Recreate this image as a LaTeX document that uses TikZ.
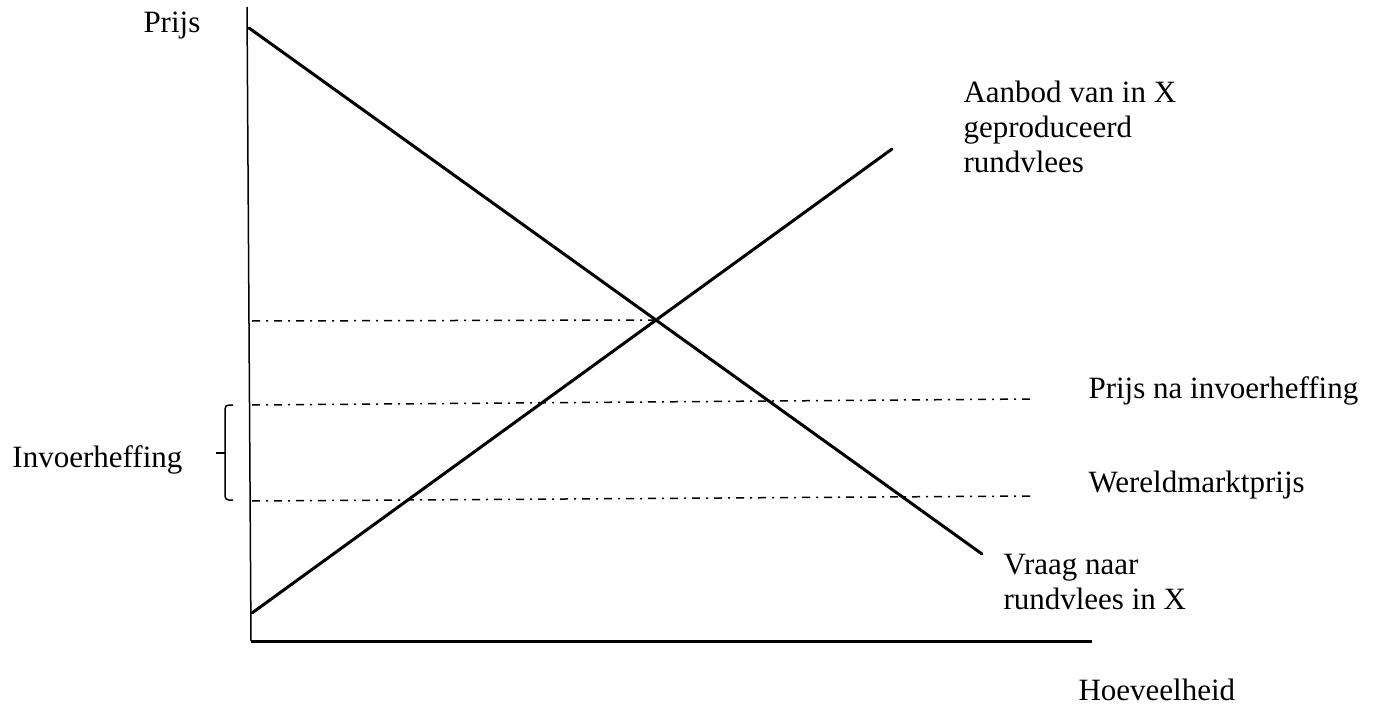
\documentclass[tikz,border=0pt]{standalone}
\usepackage{fontspec}
\setmainfont{Liberation Serif}
\usepackage{tikz}
\usetikzlibrary{positioning,calc}

\begin{document}
\begin{tikzpicture}[
    x=0.4pt, y=-0.4pt,
    every node/.style={font=\fontsize{12.4}{13.8}\selectfont, inner sep=0pt},
    axis/.style={line width=0.6pt, color=black},
    curve/.style={line width=1.2pt, color=black, line cap=round},
    pricelevel/.style={line width=0.6pt, color=black,
                       dash pattern=on 3.2pt off 2.4pt on 0.8pt off 2.4pt},
    bracket/.style={line width=0.6pt, color=black, rounded corners=1.5pt},
    lbl/.style={anchor=base west, align=left}
]
\useasboundingbox (0,0) rectangle (1386,706);

% --- Axes ---
\coordinate (ytop) at (247,7);
\coordinate (orig) at (251,641);
\coordinate (xend) at (1092,641);
\draw[axis] (ytop) -- (orig);
\draw[axis, line width=1.2pt] (orig) -- (xend);

% --- Demand and supply ---
\coordinate (dtop) at (249,28);
\coordinate (dend) at (982,554);
\coordinate (sbot) at (252,613);
\coordinate (stop) at (892,149);
\coordinate (eq)   at (657,320);
\draw[curve] (dtop) -- (dend);
\draw[curve] (sbot) -- (stop);

% --- Price levels ---
\coordinate (p1l) at (252,321);
\coordinate (p2l) at (252,405);
\coordinate (p2r) at (1033,399);
\coordinate (p3l) at (252,501);
\coordinate (p3r) at (1033,496);
\draw[pricelevel] (p1l) -- (eq);
\draw[pricelevel] (p2l) -- (p2r);
\draw[pricelevel] (p3l) -- (p3r);

% --- Levy bracket ---
\coordinate (btop) at (233,405);
\coordinate (bbot) at (233,500);
\coordinate (bmid) at (225,453);
\coordinate (btip) at (216,453);
\draw[bracket] (btop) -- (225,405) -- (225,500) -- (bbot);
\draw[bracket] (bmid) -- (btip);

% --- Labels (multi-line: base is the last line) ---
\node[lbl] (prijs)  at (143,33)  {Prijs};
\node[lbl] (aanbod) at (963,172) {Aanbod van in X\\geproduceerd\\rundvlees};
\node[lbl] (pna)    at (1088,398) {Prijs na invoerheffing};
\node[lbl] (wmp)    at (1088,492) {Wereldmarktprijs};
\node[lbl] (heff)   at (12,467)  {Invoerheffing};
\node[lbl] (vraag)  at (1003,609) {Vraag naar\\rundvlees in X};
\node[lbl] (hoev)   at (1078,700) {Hoeveelheid};

\end{tikzpicture}
\end{document}
